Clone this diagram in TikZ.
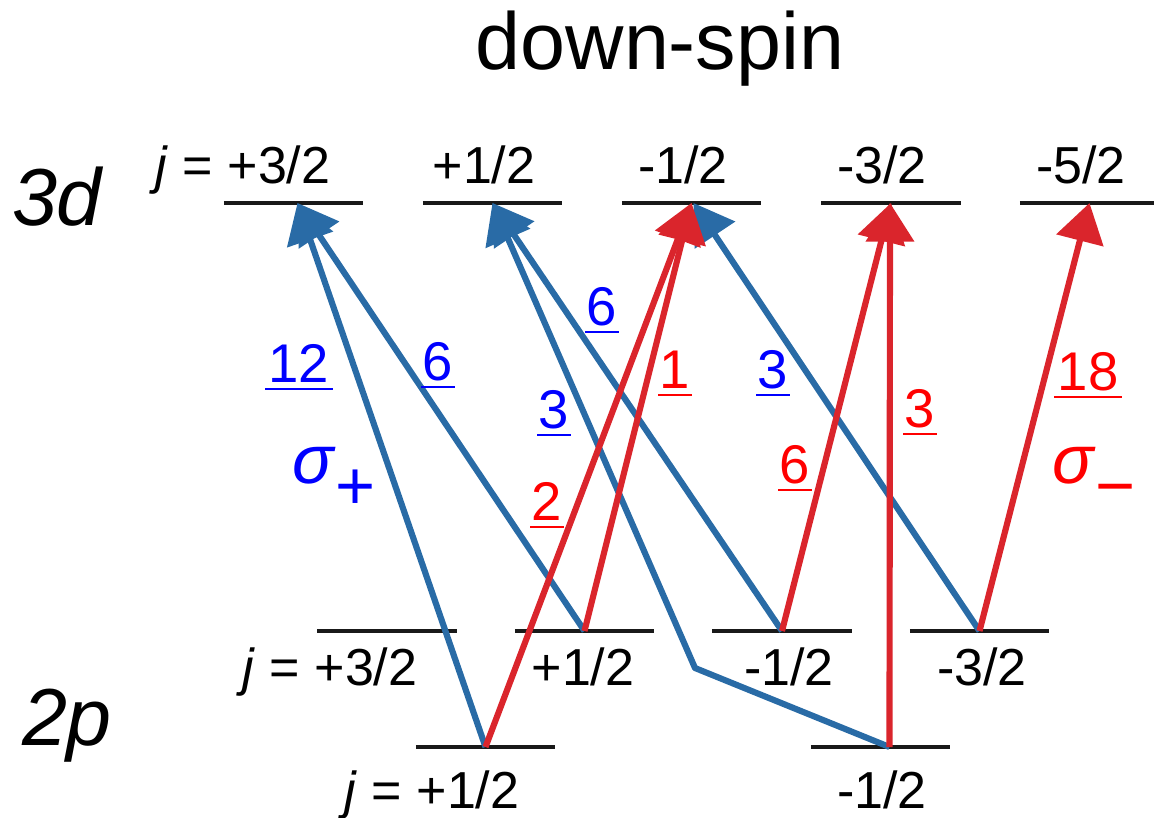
\documentclass[tikz,border=0pt]{standalone}
\usepackage{fontspec}
\setmainfont{Liberation Sans}
\usetikzlibrary{arrows.meta,calc}
\definecolor{plusline}{RGB}{41,107,166}
\definecolor{minusline}{RGB}{218,37,44}
\definecolor{plustext}{RGB}{0,0,255}
\definecolor{minustext}{RGB}{255,0,0}
\newcommand\wgt[1]{\setbox0\hbox{#1}\leavevmode\rlap{\hbox to \wd0{\hss\rule[-2.4pt]{1.12\wd0}{0.65pt}\hss}}\box0}
\tikzset{
  lvl/.style={inner sep=0pt, outer sep=0pt, minimum width=1.39cm, minimum height=0pt,
    append after command={(\tikzlastnode.west) edge[draw=black!90, line width=1.3pt] (\tikzlastnode.east)}},
  lvltext/.style={inner sep=0pt, anchor=base, font=\fontsize{14.8}{17}\selectfont},
  shell/.style={inner sep=0pt, anchor=base, font=\fontsize{23}{26}\selectfont\itshape},
  splus/.style={draw=plusline, line width=1.75pt, line join=round, -{Triangle[length=11pt, width=13.5pt]}},
  sminus/.style={splus, draw=minusline},
  wplus/.style={inner sep=0pt, anchor=base, text=plustext, font=\fontsize{15.5}{17}\selectfont},
  wminus/.style={wplus, text=minustext},
}
\begin{document}
\begin{tikzpicture}[x=0.01cm, y=-0.01cm]
  \useasboundingbox (0,0) rectangle (1154,818);
  % Titel und Schalen
  \node[inner sep=0pt, anchor=base, font=\fontsize{23}{26}\selectfont] (title) at (660,69) {down-spin};
  \node[shell] (d) at (57,225) {3d};
  \node[shell] (p) at (67,745) {2p};
  % Niveaus
  \foreach \n/\x/\y/\lx/\ly/\t in {
      d32/293.5/203/243/183/{\textit{j} = +3/2},
      d12/492.5/203/484/183/{+1/2},
      dm12/691.5/203/683/183/{-1/2},
      dm32/891/203/882/183/{-3/2},
      dm52/1089.5/203/1081/183/{-5/2},
      p32/387/631/330/685/{\textit{j} = +3/2},
      p12/584.5/631/583/685/{+1/2},
      pm12/782/631/789/685/{-1/2},
      pm32/979.5/631/982/685/{-3/2},
      q12/485.5/747/432/808/{\textit{j} = +1/2},
      qm12/880.5/747/882/808/{-1/2}
  } {
    \node[lvl] (\n) at (\x,\y) {};
    \node[lvltext] (t\n) at (\lx,\ly) {\t};
  }
  % sigma plus
  \coordinate (kink) at (695,668);
  \draw[splus] (q12.center) -- ($(d32.center)+(4,0)$);
  \draw[splus] (p12.center) -- ($(d32.center)+(4,0)$);
  \draw[splus] (pm12.center) -- (d12.center);
  \draw[splus] ($(qm12.center)+(9,0)$) -- (kink) -- (d12.center);
  \draw[splus] (pm32.center) -- ($(dm12.center)+(2,0)$);
  % sigma minus
  \draw[sminus] (q12.center) -- (dm12.center);
  \draw[sminus] (p12.center) -- (dm12.center);
  \draw[sminus] (pm12.center) -- (dm32.center);
  \draw[sminus] ($(qm12.center)+(9,0)$) -- ($(dm32.center)+(-1,0)$);
  \draw[sminus] (pm32.center) -- (dm52.center);
  % Gewichte
  \node[wplus] (w1) at (299,382) {\wgt{12}};
  \node[wplus] (w2) at (438,380) {\wgt{6}};
  \node[wplus] (w3) at (602,325) {\wgt{6}};
  \node[wplus] (w4) at (554,428) {\wgt{3}};
  \node[wplus] (w5) at (773,388) {\wgt{3}};
  \node[wminus] (w6) at (675,388) {\wgt{1}};
  \node[wminus] (w7) at (547,520) {\wgt{2}};
  \node[wminus] (w8) at (795,483) {\wgt{6}};
  \node[wminus] (w9) at (920,427) {\wgt{3}};
  \node[wminus] (w10) at (1088,390) {\wgt{18}};
  \node[wplus, font=\fontsize{19.5}{22}\selectfont] (sigp) at (334,483) {\textit{σ}\raisebox{-7.5pt}{+}};
  \node[wminus, font=\fontsize{19.5}{22}\selectfont] (sigm) at (1094,483) {\textit{σ}\raisebox{-7.5pt}{−}};
\end{tikzpicture}
\end{document}
